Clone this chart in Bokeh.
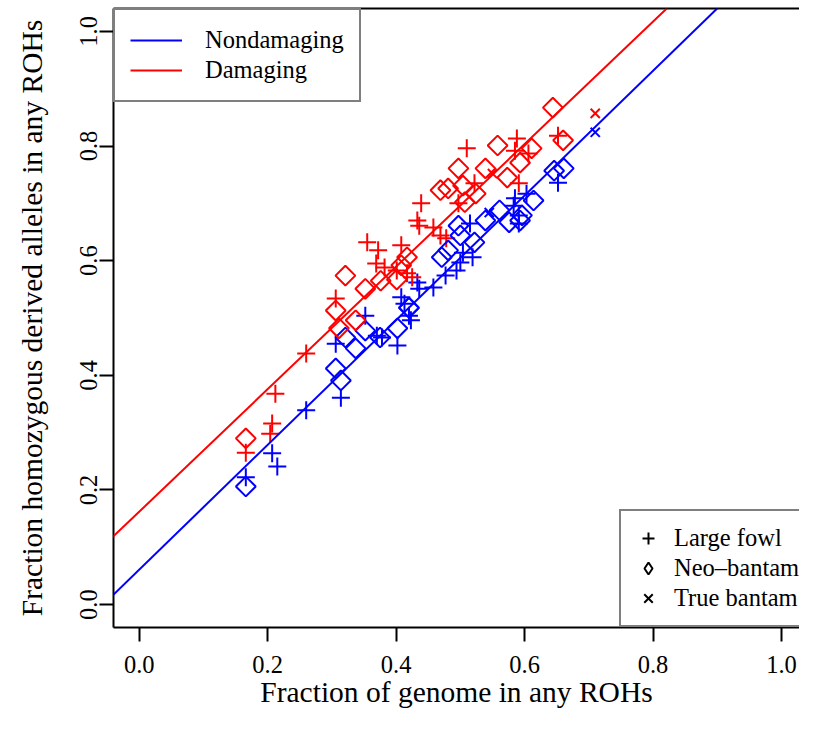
import numpy as np
from bokeh.plotting import figure
from bokeh.models import (Slope, Legend, LegendItem, LinearAxis, FixedTicker,
                          NumeralTickFormatter, Range1d)
from bokeh.embed import file_html
from bokeh.resources import INLINE

# ---- data ----
TICKS = [0.0, 0.2, 0.4, 0.6, 0.8, 1.0]

# fitted lines: (intercept, slope)
nondamaging_fit = (0.061, 1.088)
damaging_fit = (0.162, 1.069)

# Large fowl (+)
lf_dam_x = [0.212, 0.207, 0.204, 0.166, 0.260, 0.306, 0.355, 0.372, 0.408, 0.369,
            0.382, 0.401, 0.425, 0.433, 0.439, 0.436, 0.469, 0.478, 0.458, 0.417,
            0.510, 0.588, 0.585, 0.606, 0.652, 0.522, 0.591, 0.497]
lf_dam_y = [0.368, 0.316, 0.298, 0.265, 0.438, 0.534, 0.632, 0.618, 0.627, 0.595,
            0.588, 0.583, 0.571, 0.670, 0.700, 0.661, 0.644, 0.639, 0.658, 0.578,
            0.796, 0.813, 0.792, 0.787, 0.818, 0.735, 0.735, 0.700]
lf_non_x = [0.260, 0.207, 0.215, 0.166, 0.314, 0.306, 0.352, 0.370, 0.378, 0.402,
            0.408, 0.413, 0.420, 0.423, 0.433, 0.436, 0.458, 0.477, 0.494, 0.500,
            0.504, 0.519, 0.515, 0.591, 0.585, 0.583, 0.603, 0.652, 0.591]
lf_non_y = [0.339, 0.264, 0.241, 0.222, 0.361, 0.455, 0.504, 0.469, 0.466, 0.452,
            0.536, 0.525, 0.504, 0.496, 0.562, 0.551, 0.553, 0.574, 0.583, 0.597,
            0.614, 0.606, 0.665, 0.679, 0.709, 0.696, 0.717, 0.736, 0.665]

# Neo-bantam (diamond)
nb_dam_x = [0.166, 0.306, 0.311, 0.321, 0.337, 0.352, 0.376, 0.401, 0.417, 0.408,
            0.469, 0.481, 0.504, 0.497, 0.524, 0.507, 0.539, 0.558, 0.573, 0.593,
            0.611, 0.644, 0.660]
nb_dam_y = [0.290, 0.513, 0.482, 0.574, 0.496, 0.551, 0.565, 0.567, 0.606, 0.592,
            0.723, 0.726, 0.731, 0.761, 0.717, 0.702, 0.761, 0.801, 0.745, 0.771,
            0.796, 0.867, 0.810]
nb_non_x = [0.166, 0.306, 0.314, 0.321, 0.337, 0.352, 0.375, 0.402, 0.420, 0.471,
            0.481, 0.500, 0.497, 0.522, 0.539, 0.561, 0.576, 0.596, 0.614, 0.646,
            0.661, 0.593, 0.420]
nb_non_y = [0.206, 0.412, 0.391, 0.466, 0.447, 0.478, 0.466, 0.482, 0.518, 0.606,
            0.618, 0.644, 0.661, 0.632, 0.670, 0.688, 0.667, 0.679, 0.705, 0.757,
            0.761, 0.670, 0.518]

# True bantam (x)
tb_dam_x = [0.710, 0.550]
tb_dam_y = [0.857, 0.752]
tb_non_x = [0.710, 0.545]
tb_non_y = [0.824, 0.684]

legend_fit_labels = ["Nondamaging", "Damaging"]
legend_breed_labels = ["Large fowl", "Neo\u2013bantam", "True bantam"]
x_title = "Fraction of genome in any ROHs"
y_title = "Fraction homozygous derived alleles in any ROHs"

FONT = "Liberation Serif"
BLUE = "#0000FF"
RED = "#FF0000"

p = figure(width=799, height=715, output_backend="svg", toolbar_location=None,
           x_range=Range1d(-0.04, 1.028), y_range=Range1d(-0.04, 1.04),
           min_border_left=113, min_border_right=0, min_border_top=8,
           min_border_bottom=88)
p.outline_line_color = None
p.grid.visible = False
p.background_fill_color = "white"
p.border_fill_color = "white"


def style_axis(ax, label):
    ax.ticker = FixedTicker(ticks=TICKS)
    ax.formatter = NumeralTickFormatter(format="0.0")
    ax.axis_label = label
    ax.axis_label_text_font = FONT
    ax.axis_label_text_font_size = "29.5px"
    ax.axis_label_text_font_style = "normal"
    ax.axis_label_text_color = "black"
    ax.major_label_text_font = FONT
    ax.major_label_text_font_size = "24.5px"
    ax.major_label_text_color = "black"
    ax.axis_line_color = "black"
    ax.axis_line_width = 2
    ax.major_tick_line_color = "black"
    ax.major_tick_line_width = 2
    ax.major_tick_out = 14
    ax.major_tick_in = 0
    ax.minor_tick_out = 0
    ax.minor_tick_in = 0
    ax.minor_tick_line_color = None


xa = p.xaxis[0]
style_axis(xa, x_title)
xa.major_label_standoff = 14
xa.axis_label_standoff = 0

ya = p.yaxis[0]
style_axis(ya, y_title)
ya.major_label_orientation = "vertical"
ya.major_label_standoff = 2
ya.axis_label_standoff = 30

top = LinearAxis(ticker=FixedTicker(ticks=[]), major_tick_out=0, major_tick_in=0,
                 minor_tick_out=0, minor_tick_in=0, major_label_standoff=0,
                 axis_line_color="black", axis_line_width=2,
                 major_label_text_font_size="0px")
p.add_layout(top, "above")

# regression lines
p.add_layout(Slope(gradient=nondamaging_fit[1], y_intercept=nondamaging_fit[0],
                   line_color=BLUE, line_width=2))
p.add_layout(Slope(gradient=damaging_fit[1], y_intercept=damaging_fit[0],
                   line_color=RED, line_width=2))

# points
for xs, ys, col in [(lf_non_x, lf_non_y, BLUE), (lf_dam_x, lf_dam_y, RED)]:
    p.scatter(xs, ys, marker="cross", size=18, line_color=col, line_width=2)
for xs, ys, col in [(nb_non_x, nb_non_y, BLUE), (nb_dam_x, nb_dam_y, RED)]:
    p.scatter(xs, ys, marker="square", angle=np.pi / 4, size=14, line_color=col,
              fill_color=None, line_width=2)
for xs, ys, col in [(tb_non_x, tb_non_y, BLUE), (tb_dam_x, tb_dam_y, RED)]:
    p.scatter(xs, ys, marker="x", size=13, line_color=col, line_width=2)

# legend proxies (a single NaN row: never drawn in the plot area)
NAN = [float("nan")]
rb = p.line(x=NAN, y=NAN, line_color=BLUE, line_width=2)
rr = p.line(x=NAN, y=NAN, line_color=RED, line_width=2)
m1 = p.scatter(x=NAN, y=NAN, marker="cross", line_color="black", line_width=2)
m2 = p.scatter(x=NAN, y=NAN, marker="diamond", line_color="black",
               fill_color=None, line_width=2)
m3 = p.scatter(x=NAN, y=NAN, marker="x", line_color="black", line_width=2)

common = dict(label_text_font=FONT, label_text_font_size="24.5px",
              label_text_color="black", border_line_color="black",
              border_line_width=2, background_fill_color="white",
              background_fill_alpha=1.0, spacing=0, margin=0)

leg1 = Legend(items=[LegendItem(label=legend_fit_labels[0], renderers=[rb]),
                     LegendItem(label=legend_fit_labels[1], renderers=[rr])],
              location="top_left", padding=15, glyph_width=52, glyph_height=30,
              label_height=30, label_standoff=23, **common)
leg2 = Legend(items=[LegendItem(label=legend_breed_labels[0], renderers=[m1]),
                     LegendItem(label=legend_breed_labels[1], renderers=[m2]),
                     LegendItem(label=legend_breed_labels[2], renderers=[m3])],
              location=(506, 0), padding=12, glyph_width=30, glyph_height=30,
              label_height=30, label_standoff=11, **common)
p.add_layout(leg1)
p.add_layout(leg2)

open("out.html", "w").write(file_html(p, INLINE))
